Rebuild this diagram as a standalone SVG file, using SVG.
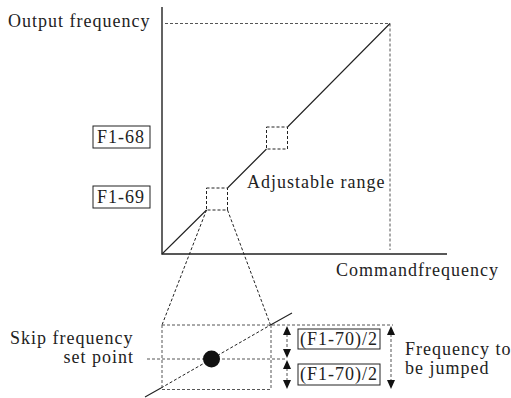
<svg xmlns="http://www.w3.org/2000/svg" width="511" height="398" viewBox="0 0 511 398">
<style>
.t{font-family:'Liberation Serif','DejaVu Serif',serif;font-size:18px;letter-spacing:1px;fill:#222}
.ax{stroke:#222;stroke-width:1.4;fill:none}
.ln{stroke:#222;stroke-width:1.1;fill:none}
.dg{stroke:#555;stroke-width:1;stroke-dasharray:3,2;fill:none}
.dk{stroke:#222;stroke-width:1;stroke-dasharray:3,2;fill:none}
.bx{stroke:#222;stroke-width:1;fill:none}
.ah{fill:#111}
</style>
<rect width="511" height="398" fill="#fff"/>
<g id="connectors">
<path class="ax" d="M162,7 V254 H447"/>
<path class="dg" d="M165,23.5 H390 V250"/>
<path class="ln" d="M162,254 L206.5,210 M227.5,188 L266.5,149 M287.5,127 L390,23.5"/>
<path class="dk" d="M206.5,210 L162,325 M227.5,210 L270.5,325"/>
<path class="dg" d="M162,325 H393 M147,359 H285 M162,389.5 H271 M162,325 V389.5 M271,325 V389.5"/>
<path class="ln" d="M145,397 L161,388 M270.5,325 L292,313"/>
<path class="dk" d="M161,388 L270.5,325"/>
<path class="dg" d="M287,334 V350 M287,368 V381 M391,334 V380"/>
<path class="ah" d="M287,326 l-4,9 h8 z M287,358 l-4,-9 h8 z M287,360 l-4,9 h8 z M287,389 l-4,-9 h8 z M391,326 l-4,9 h8 z M391,389 l-4,-9 h8 z"/>
</g>
<g id="zoom1"><rect class="dk" x="206.5" y="188" width="21" height="22"/></g>
<g id="zoom2"><rect class="dk" x="266.5" y="127" width="21" height="22"/></g>
<g id="skip-point"><circle cx="211.5" cy="359" r="8.5" fill="#111"/></g>
<g id="ylabel"><text class="t" x="8" y="27">Output frequency</text></g>
<g id="xlabel"><text class="t" x="336" y="276">Commandfrequency</text></g>
<g id="f168"><rect class="bx" x="93" y="126" width="57" height="22"/><text class="t" x="97" y="143">F1-68</text></g>
<g id="f169"><rect class="bx" x="93" y="186" width="57" height="22"/><text class="t" x="97" y="203">F1-69</text></g>
<g id="adjustable"><text class="t" x="247" y="188">Adjustable range</text></g>
<g id="skip-label"><text class="t" x="10" y="344">Skip frequency</text><text class="t" x="134" y="363" text-anchor="end">set point</text></g>
<g id="half1"><rect class="bx" x="298" y="329" width="82" height="20"/><text class="t" x="300" y="345">(F1-70)/2</text></g>
<g id="half2"><rect class="bx" x="298" y="364" width="82" height="21"/><text class="t" x="300" y="380">(F1-70)/2</text></g>
<g id="jump-label"><text class="t" x="405" y="355">Frequency to</text><text class="t" x="405" y="374">be jumped</text></g>
</svg>
